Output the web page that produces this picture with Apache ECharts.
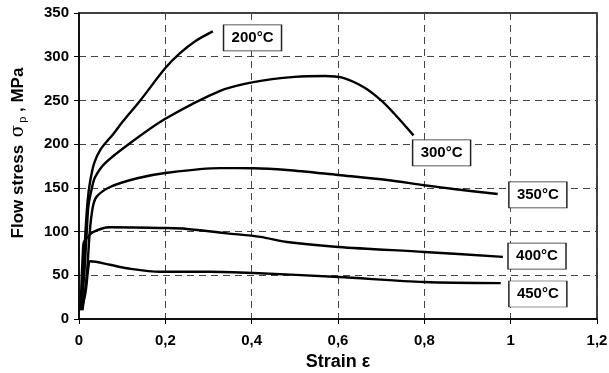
<!DOCTYPE html>
<html>
<head>
<meta charset="utf-8">
<script src="https://cdn.jsdelivr.net/npm/echarts@6/dist/echarts.min.js"></script>
<style>
  html, body { margin: 0; padding: 0; background: #ffffff; }
  #chart { width: 609px; height: 373px; }
</style>
</head>
<body>
<div id="chart"></div>
<script>
// flow curves: [strain, stress MPa]
var curve200 = [[0.003, 10], [0.01, 50], [0.015, 100], [0.02, 135], [0.025, 155], [0.035, 178], [0.05, 194],
  [0.08, 212], [0.1, 225], [0.142, 250], [0.2, 287], [0.234, 304], [0.27, 318], [0.31, 329]];
var curve300 = [[0.005, 10], [0.012, 50], [0.018, 100], [0.022, 130], [0.03, 150], [0.037, 162], [0.06, 178],
  [0.118, 201], [0.2, 229], [0.327, 261], [0.404, 271], [0.5, 277], [0.57, 278], [0.61, 276],
  [0.66, 265], [0.7, 250], [0.73, 235], [0.775, 210]];
var curve350 = [[0.008, 10], [0.018, 50], [0.025, 100], [0.032, 128], [0.041, 140], [0.072, 151], [0.135, 161],
  [0.2, 167], [0.327, 172.6], [0.404, 172.5], [0.482, 170.5], [0.601, 164.7], [0.714, 159],
  [0.8, 153], [0.868, 148.7], [0.97, 143]];
var curve400 = [[0.004, 15], [0.01, 85], [0.014, 90], [0.033, 99.5], [0.072, 105], [0.204, 104], [0.25, 103],
  [0.343, 98], [0.42, 94], [0.482, 88], [0.601, 82.4], [0.8, 76.7], [0.982, 71]];
var curve450 = [[0.006, 12], [0.015, 30], [0.022, 60], [0.026, 66], [0.072, 62], [0.111, 58], [0.188, 54],
  [0.304, 54], [0.404, 52.6], [0.601, 48], [0.8, 42.3], [0.977, 41]];

var tempLabels = ['200°C', '300°C', '350°C', '400°C', '450°C'];
var labelPos = [[0.402, 321.5], [0.84, 190], [1.063, 142], [1.061, 72], [1.063, 28.6]];

var myChart = echarts.init(document.getElementById('chart'));
var font = '"Liberation Sans", Arial, sans-serif';

function line(data) {
  return {
    type: 'line',
    data: data,
    smooth: 0.3,
    symbol: 'none',
    lineStyle: { color: '#000', width: 2.4 },
    z: 3
  };
}

var option = {
  animation: false,
  backgroundColor: '#fff',
  grid: {
    left: 79, right: 12, top: 13, bottom: 54,
    outerBoundsMode: 'none',
    show: true, borderColor: '#000', borderWidth: 1.5
  },
  xAxis: {
    type: 'value',
    min: 0, max: 1.2, interval: 0.2,
    name: 'Strain ε',
    nameLocation: 'middle',
    nameGap: 34,
    nameTextStyle: { fontFamily: font, fontWeight: 'bold', fontSize: 18, color: '#000' },
    axisLine: { lineStyle: { color: '#000', width: 1.5 } },
    axisTick: { length: 5, lineStyle: { color: '#000' } },
    axisLabel: {
      margin: 14, fontFamily: font, fontWeight: 'bold', fontSize: 15, color: '#000',
      formatter: function (v) { return String(Math.round(v * 10) / 10).replace('.', ','); }
    },
    splitLine: { lineStyle: { color: '#444', type: [7, 5], width: 1 } }
  },
  yAxis: {
    type: 'value',
    min: 0, max: 350, interval: 50,
    name: '{b|Flow stress }{s|σ}{sub|p}{b| , MPa}',
    nameLocation: 'middle',
    nameGap: 51,
    nameTextStyle: {
      color: '#000',
      padding: [0, 0, 0, 26],
      rich: {
        b: { fontFamily: font, fontWeight: 'bold', fontSize: 17, color: '#000' },
        s: { fontFamily: '"DejaVu Serif", serif', fontSize: 18, color: '#000', padding: [0, 2, 0, 3] },
        sub: { fontFamily: font, fontSize: 11, color: '#000', verticalAlign: 'bottom', padding: [8, 0, 0, 0] }
      }
    },
    axisLine: { show: true, lineStyle: { color: '#000', width: 1.5 } },
    axisTick: { show: true, length: 5, lineStyle: { color: '#000' } },
    axisLabel: { margin: 10, fontFamily: font, fontWeight: 'bold', fontSize: 15, color: '#000' },
    splitLine: { lineStyle: { color: '#444', type: [7, 5], width: 1 } }
  },
  series: [
    line(curve200), line(curve300), line(curve350), line(curve400), line(curve450),
    {
      type: 'scatter',
      data: labelPos.map(function (p, i) { return { value: p, name: tempLabels[i] }; }),
      symbol: 'rect',
      symbolSize: [58, 26],
      itemStyle: { color: '#fff', borderColor: '#222', borderWidth: 1, opacity: 1 },
      label: {
        show: true, position: 'inside', formatter: '{b}',
        fontFamily: font, fontWeight: 'bold', fontSize: 15, color: '#000'
      },
      emphasis: { disabled: true },
      z: 4
    }
  ]
};

myChart.setOption(option);
</script>
</body>
</html>
